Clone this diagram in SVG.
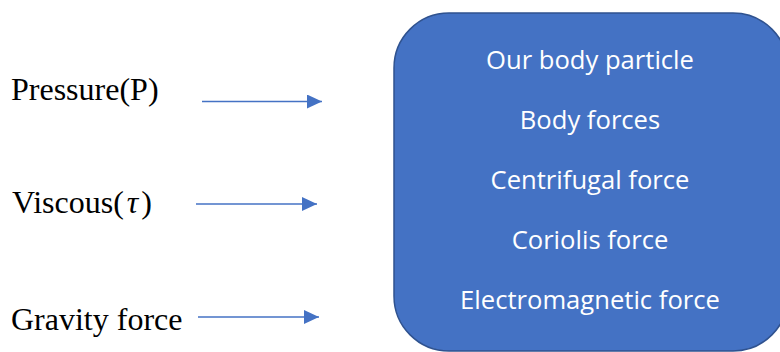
<svg xmlns="http://www.w3.org/2000/svg" width="780" height="352" viewBox="0 0 780 352">
<style>
.lbl{font-family:"Liberation Serif","Times New Roman",serif;font-size:32px;fill:#000}
.in{font-family:"Open Sans","Noto Sans",sans-serif;font-size:25.6px;fill:#fff;text-anchor:middle}
.arr{stroke:#4472C4;stroke-width:1.5;fill:none;marker-end:url(#ah)}
</style>
<defs>
<marker id="ah" viewBox="0 0 15 14" refX="15" refY="7" markerWidth="15" markerHeight="14" markerUnits="userSpaceOnUse" orient="auto">
<path d="M0,0 L15,7 L0,14 z" fill="#4472C4"/>
</marker>
</defs>
<rect width="780" height="352" fill="#fff"/>
<g id="pressure"><text class="lbl" x="11" y="100">Pressure(P)</text></g>
<g id="viscous"><text class="lbl" x="12" y="213">Viscous(<tspan font-style="italic" dx="3">τ</tspan><tspan dx="3">)</tspan></text></g>
<g id="gravity"><text class="lbl" x="11" y="330">Gravity force</text></g>
<g id="particle">
<rect x="394" y="13" width="394" height="338" rx="55" ry="55" fill="#4472C4" stroke="#2F528F" stroke-width="1.5"/>
<text class="in" x="590" y="69">Our body particle</text>
<text class="in" x="590" y="129">Body forces</text>
<text class="in" x="590" y="189">Centrifugal force</text>
<text class="in" x="590" y="249">Coriolis force</text>
<text class="in" x="590" y="309">Electromagnetic force</text>
</g>
<g id="connectors">
<line class="arr" x1="202" y1="101.5" x2="322" y2="101.5"/>
<line class="arr" x1="196" y1="204" x2="317" y2="204"/>
<line class="arr" x1="198" y1="317" x2="319" y2="317"/>
</g>
</svg>
